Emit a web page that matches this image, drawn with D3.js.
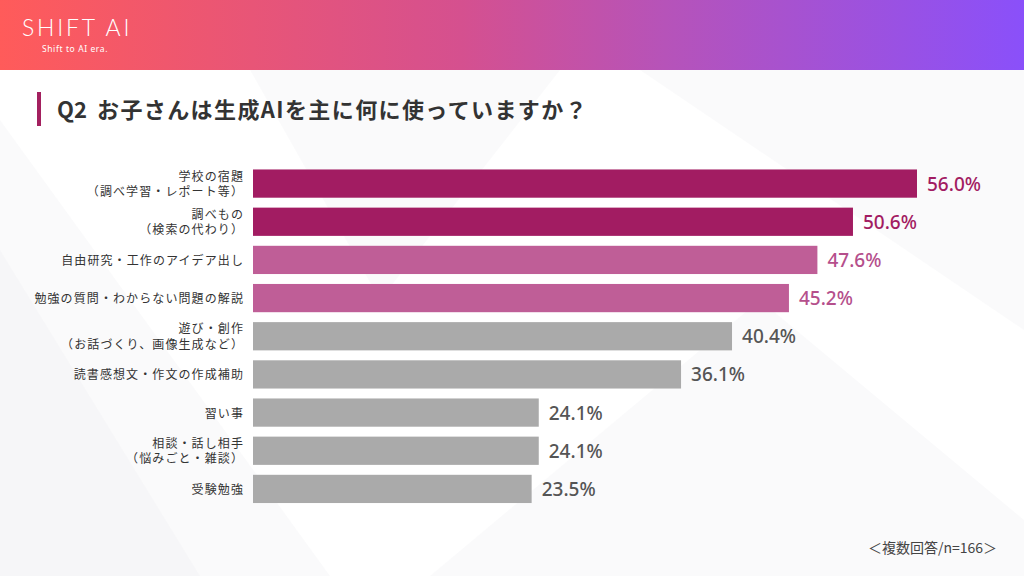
<!DOCTYPE html>
<html><head><meta charset="utf-8">
<script src="https://cdn.jsdelivr.net/npm/d3@7/dist/d3.min.js"></script>
<style>html,body{margin:0;padding:0;background:#fff;}svg{display:block;}</style>
</head><body>
<svg id="c" width="1024" height="576"></svg>
<script>
const categories = [
  ["学校の宿題","（調べ学習・レポート等）"],
  ["調べもの","（検索の代わり）"],
  ["自由研究・工作のアイデア出し"],
  ["勉強の質問・わからない問題の解説"],
  ["遊び・創作","（お話づくり、画像生成など）"],
  ["読書感想文・作文の作成補助"],
  ["習い事"],
  ["相談・話し相手","（悩みごと・雑談）"],
  ["受験勉強"]
];
const values = [56.0, 50.6, 47.6, 45.2, 40.4, 36.1, 24.1, 24.1, 23.5];
const groups = ["top","top","mid","mid","other","other","other","other","other"];
const titleQ = "Q2";
const title = "お子さんは生成AIを主に何に使っていますか？";
const note = "＜複数回答/n=166＞";

const barColor = {top:"#A21C62", mid:"#BF5E97", other:"#AAAAAA"};
const textColor = {top:"#A21C62", mid:"#B54F8C", other:"#555555"};
const font = "'Noto Sans CJK JP','Noto Sans',sans-serif";

const svg = d3.select("#c");
const defs = svg.append("defs");
const g1 = defs.append("linearGradient").attr("id","hdr").attr("x1","0").attr("x2","1").attr("y1","0").attr("y2","0");
g1.append("stop").attr("offset","0").attr("stop-color","#FF5B5A");
g1.append("stop").attr("offset","0.45").attr("stop-color","#D5508F");
g1.append("stop").attr("offset","0.65").attr("stop-color","#B653B9");
g1.append("stop").attr("offset","1").attr("stop-color","#8A50FA");

// background
svg.append("rect").attr("width",1024).attr("height",576).attr("fill","#ffffff");
const bgPolys = [
  [[0,120],[330,576],[0,576]],
  [[430,576],[760,300],[1024,520],[1024,576]],
  [[640,70],[1024,70],[1024,330]],
  [[250,70],[560,70],[380,300]],
  [[0,250],[200,576],[0,576]]
];
svg.append("g").selectAll("polygon").data(bgPolys).join("polygon")
  .attr("points", d => d.map(p => p.join(",")).join(" "))
  .attr("fill","#eeeff2").attr("opacity",0.3);

// header
svg.append("rect").attr("x",0).attr("y",0).attr("width",1024).attr("height",70).attr("fill","url(#hdr)");
svg.append("text").attr("x",22).attr("y",36).attr("fill","#fff")
  .attr("font-family","'Lato','Noto Sans',sans-serif").attr("font-weight",300)
  .attr("font-size",23).attr("letter-spacing",2.8).text("SHIFT AI");
svg.append("text").attr("x",42).attr("y",52).attr("fill","#fff")
  .attr("font-family","'Noto Sans',sans-serif").attr("font-size",8.5).attr("letter-spacing",0.6).text("Shift to AI era.");

// title
svg.append("rect").attr("x",37).attr("y",92).attr("width",4).attr("height",34).attr("fill","#A3205F");
svg.append("text").attr("x",57).attr("y",118).attr("fill","#333")
  .attr("font-family",font).attr("font-weight",700).attr("font-size",22).text(titleQ);
svg.append("text").attr("x",97).attr("y",118).attr("fill","#333")
  .attr("font-family",font).attr("font-weight",700).attr("font-size",22).attr("letter-spacing",1.4).text(title);

// scales
const x = d3.scaleLinear().domain([0, 56.0]).range([253, 917]);
const y = d3.scaleBand().domain(d3.range(values.length)).range([164.5, 508]).paddingInner(0.26).paddingOuter(0.13);

const rows = svg.append("g").selectAll("g").data(values).join("g");
rows.append("rect")
  .attr("x", x(0)).attr("y", (d,i) => y(i))
  .attr("width", d => x(d) - x(0)).attr("height", y.bandwidth())
  .attr("fill", (d,i) => barColor[groups[i]]);
rows.append("text")
  .attr("x", d => x(d) + 10).attr("y", (d,i) => y(i) + y.bandwidth()/2 + 7)
  .attr("fill", (d,i) => textColor[groups[i]])
  .attr("font-family","'Noto Sans','Open Sans',sans-serif").attr("font-weight",500).attr("font-size",19)
  .text(d => d.toFixed(1) + "%");

// labels
categories.forEach((lines, i) => {
  const cy = y(i) + y.bandwidth()/2;
  const ys = lines.length === 1 ? [cy + 5] : [cy - 3, cy + 12.5];
  lines.forEach((ln, k) => {
    svg.append("text").attr("text-anchor","end").attr("fill","#333")
      .attr("font-family",font).attr("font-size",12).attr("letter-spacing",1.1)
      .attr("x",244).attr("y",ys[k]).text(ln);
  });
});

// note
svg.append("text").attr("x",997).attr("y",553).attr("text-anchor","end")
  .attr("fill","#444").attr("font-family",font).attr("font-size",14).text(note);
</script>
</body></html>
